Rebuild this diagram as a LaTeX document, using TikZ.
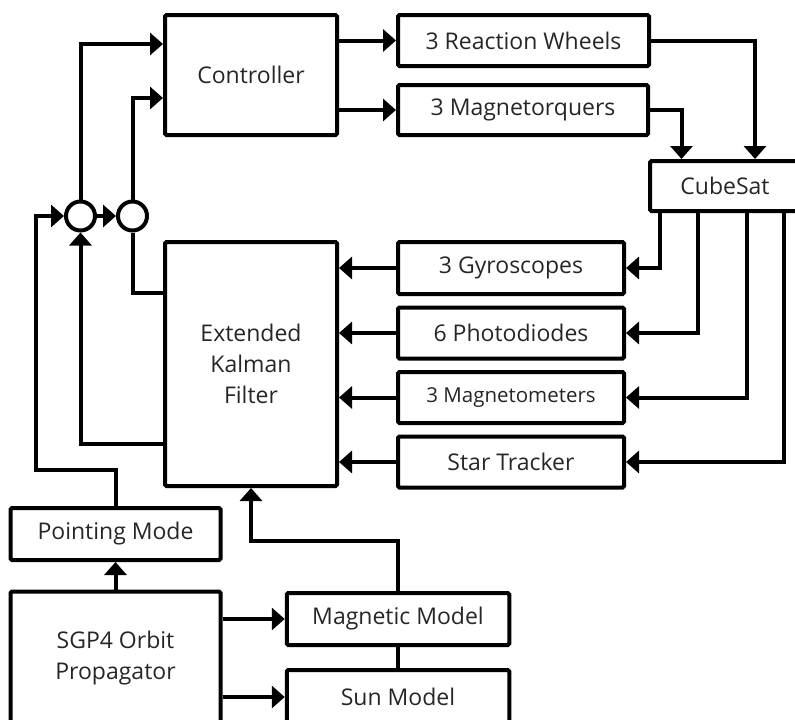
\documentclass[tikz,border=0pt]{standalone}
\usepackage{fontspec}
\setmainfont{Open Sans}
\usetikzlibrary{arrows.meta,positioning,calc}
\begin{document}
\begin{tikzpicture}[x=1pt,y=-1pt,
  box/.style={draw, line width=4pt, rounded corners=1.5pt, inner sep=0pt, align=center,
    font=\fontsize{23}{31}\selectfont, text=black!85},
  junction/.style={draw, circle, line width=4pt, minimum size=29pt, inner sep=0pt},
  wire/.style={line width=4pt},
  arr/.style={wire, -{Triangle[length=13pt,width=22pt]}}]
\useasboundingbox (0,0) rectangle (795,720);
\clip (0,0) rectangle (795,720);

\node[box, minimum width=172pt, minimum height=120pt] (ctrl) at (251,75) {Controller};
\node[box, minimum width=251pt, minimum height=51pt] (rw) at (523.5,40.5) {3 Reaction Wheels};
\node[box, minimum width=250pt, minimum height=50pt] (mt) at (523,110) {3 Magnetorquers};
\node[box, minimum width=150pt, minimum height=50pt] (cube) at (725,186) {CubeSat};
\node[box, minimum width=226pt, minimum height=52pt] (gyro) at (511,268) {3 Gyroscopes};
\node[box, minimum width=226pt, minimum height=51pt] (photo) at (511,333) {6 Photodiodes};
\node[box, minimum width=226pt, minimum height=51pt, font=\fontsize{20.5}{26}\selectfont] (mag) at (511,397.5) {3 Magnetometers};
\node[box, minimum width=226pt, minimum height=51pt] (star) at (511,462) {Star Tracker};
\node[box, minimum width=172pt, minimum height=244pt] (ekf) at (251,364) {Extended\\Kalman\\Filter};
\node[junction] (c1) at (80.5,216) {};
\node[junction] (c2) at (132.5,216) {};
\node[box, minimum width=210pt, minimum height=52pt] (pm) at (115.5,534) {Pointing Mode};
\node[box, minimum width=210pt, minimum height=132.5pt] (sgp) at (115.5,657.75) {SGP4 Orbit\\Propagator};
\node[box, minimum width=222.5pt, minimum height=52pt] (mm) at (398,619) {Magnetic Model};
\node[box, minimum width=222.5pt, minimum height=54pt] (sun) at (398,697) {Sun Model};
\coordinate (pj) at (35.5,470);

% controller outputs
\draw[arr] (ctrl.east |- rw) -- (rw.west);
\draw[arr] (ctrl.east |- mt) -- (mt.west);
\draw[arr] (rw.east) -| ([xshift=30pt]cube.north);
\draw[arr] (mt.east) -| ([xshift=-43.5pt]cube.north);
% CubeSat to sensors
\draw[arr] ([xshift=-65pt]cube.south) |- (gyro.east);
\draw[arr] ([xshift=-26.7pt]cube.south) |- (photo.east);
\draw[arr] ([xshift=21.7pt]cube.south) |- (mag.east);
\draw[arr] ([xshift=59pt]cube.south) |- (star.east);
% sensors to EKF
\draw[arr] (gyro.west) -- (gyro.west -| ekf.east);
\draw[arr] (photo.west) -- (photo.west -| ekf.east);
\draw[arr] (mag.west) -- (mag.west -| ekf.east);
\draw[arr] (star.west) -- (star.west -| ekf.east);
% junctions
\draw[arr] (c1.east) -- (c2.west);
\draw[arr] (c1.north) |- ([yshift=31pt]ctrl.west);
\draw[arr] (c2.north) |- ([yshift=-23pt]ctrl.west);
\draw[wire] (c2.south) |- ([yshift=71.5pt]ekf.west);
\draw[arr] ([yshift=-79.5pt]ekf.west) -| (c1.south);
\draw[arr] (pm.north) |- (pj) |- (c1.west);
% bottom
\draw[arr] (sgp.north) -- (pm.south);
\draw[arr] (sgp.east |- mm) -- (mm.west);
\draw[arr] (sgp.east |- sun) -- (sun.west);
\draw[arr] (mm.north) -- ++(0,-50.5) -| (ekf.south);
\draw[wire] (mm.south) -- (sun.north);
\end{tikzpicture}
\end{document}
